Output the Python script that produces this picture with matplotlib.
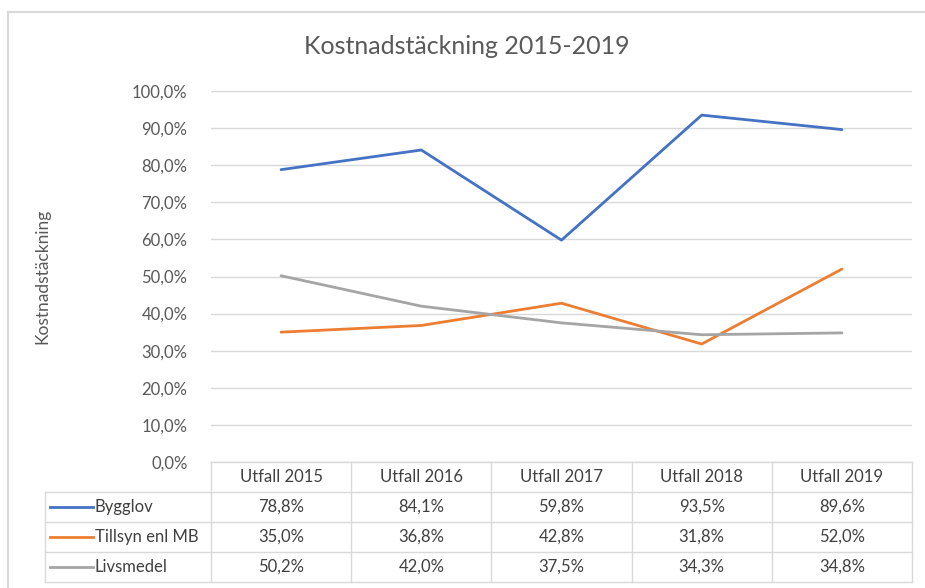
import matplotlib
matplotlib.use("Agg")
import matplotlib.pyplot as plt
import matplotlib.transforms as mtransforms
from matplotlib.lines import Line2D

plt.rcParams['font.family'] = ['Lato', 'DejaVu Sans']

categories = ["Utfall 2015", "Utfall 2016", "Utfall 2017", "Utfall 2018", "Utfall 2019"]
series_names = ["Bygglov", "Tillsyn enl MB", "Livsmedel"]
bygglov = [78.8, 84.1, 59.8, 93.5, 89.6]
tillsyn = [35.0, 36.8, 42.8, 31.8, 52.0]
livsmedel = [50.2, 42.0, 37.5, 34.3, 34.8]
yticks = [0, 10, 20, 30, 40, 50, 60, 70, 80, 90, 100]

series = [bygglov, tillsyn, livsmedel]
colors = ["#4472C4", "#ED7D31", "#A5A5A5"]

W, H = 925, 588
fig = plt.figure(figsize=(W / 100, H / 100), dpi=100)
fig.patch.set_facecolor("white")

ax_l, ax_r, ax_t, ax_b = 211, 912, 91, 462
ax = fig.add_axes([ax_l / W, 1 - ax_b / H, (ax_r - ax_l) / W, (ax_b - ax_t) / H])

x = list(range(len(categories)))
for vals, c in zip(series, colors):
    ax.plot(x, vals, color=c, lw=2.0, solid_capstyle="round", zorder=3)

ax.set_xlim(-0.5, len(categories) - 0.5)
ax.set_ylim(0, 100)
ax.set_yticks(yticks)
ax.set_yticklabels([f"{v:.1f}%".replace(".", ",") for v in yticks], fontsize=12, color="#595959")
ax.tick_params(axis="y", length=0, pad=17)
ax.set_xticks([])
for s in ax.spines.values():
    s.set_visible(False)
ax.grid(axis="y", color="#d9d9d9", lw=1)
ax.set_axisbelow(True)

ax.set_ylabel("Kostnadstäckning", fontsize=12.5, color="#595959")
ax.yaxis.set_label_coords((50 - ax_l) / (ax_r - ax_l), 0.50)

# Data table
axh = ax_b - ax_t
row_h = 30 / axh
grid_c = "#d9d9d9"
txt_c = "#404040"
fs_tab = 12
blend = mtransforms.blended_transform_factory(ax.transData, ax.transAxes)
left_ax = (45 - ax_l) / (ax_r - ax_l)
n = len(categories)

ax.add_line(Line2D([-0.5, n - 0.5], [0, 0], transform=blend, color=grid_c, lw=1, clip_on=False))
for k in range(1, len(series) + 2):
    ax.add_line(Line2D([left_ax, 1], [-k * row_h, -k * row_h], transform=ax.transAxes,
                       color=grid_c, lw=1, clip_on=False))
for i in range(n + 1):
    ax.add_line(Line2D([i - 0.5, i - 0.5], [0, -(len(series) + 1) * row_h], transform=blend,
                       color=grid_c, lw=1, clip_on=False))
ax.add_line(Line2D([left_ax, left_ax], [-row_h, -(len(series) + 1) * row_h], transform=ax.transAxes,
                   color=grid_c, lw=1, clip_on=False))

for i, cat in enumerate(categories):
    ax.text(i, -0.5 * row_h, cat, transform=blend, ha="center", va="center",
            fontsize=fs_tab, color=txt_c)
for r, (name, vals, c) in enumerate(zip(series_names, series, colors)):
    yc = -(r + 1.5) * row_h
    for i, v in enumerate(vals):
        ax.text(i, yc, f"{v:.1f}%".replace(".", ","), transform=blend, ha="center", va="center",
                fontsize=fs_tab, color=txt_c)
    x0 = (50 - ax_l) / (ax_r - ax_l)
    x1 = (93 - ax_l) / (ax_r - ax_l)
    ax.add_line(Line2D([x0, x1], [yc, yc], transform=ax.transAxes, color=c, lw=2.0, clip_on=False))
    ax.text((95 - ax_l) / (ax_r - ax_l), yc, name, transform=ax.transAxes, ha="left", va="center",
            fontsize=fs_tab, color=txt_c)

fig.text(467 / W, 1 - 47 / H, "Kostnadstäckning 2015-2019", ha="center", va="center",
         fontsize=18, color="#595959")

fig.add_artist(Line2D([8 / W, 8 / W], [0, 1 - 12 / H], transform=fig.transFigure, color=grid_c, lw=1.5))
fig.add_artist(Line2D([8 / W, 1], [1 - 12 / H, 1 - 12 / H], transform=fig.transFigure, color=grid_c, lw=1.5))

fig.savefig("out.png", dpi=100, facecolor="white")
